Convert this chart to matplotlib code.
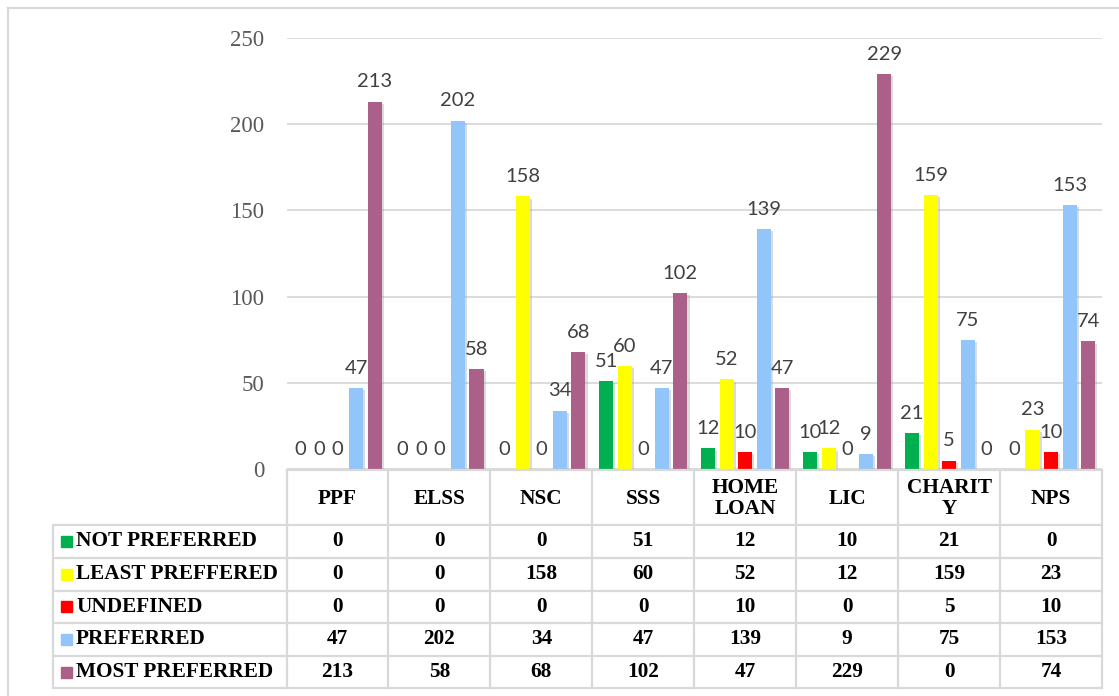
import numpy as np
import matplotlib.pyplot as plt
import matplotlib.patheffects as pe
from matplotlib.lines import Line2D
from matplotlib.patches import Rectangle
import matplotlib.transforms as mtransforms

categories = ['PPF', 'ELSS', 'NSC', 'SSS', 'HOME\nLOAN', 'LIC', 'CHARIT\nY', 'NPS']
series_names = ['NOT PREFERRED', 'LEAST PREFFERED', 'UNDEFINED', 'PREFERRED', 'MOST PREFERRED']
not_preferred = [0, 0, 0, 51, 12, 10, 21, 0]
least_preferred = [0, 0, 158, 60, 52, 12, 159, 23]
undefined = [0, 0, 0, 0, 10, 0, 5, 10]
preferred = [47, 202, 34, 47, 139, 9, 75, 153]
most_preferred = [213, 58, 68, 102, 47, 229, 0, 74]
series = [not_preferred, least_preferred, undefined, preferred, most_preferred]
colors = ['#00B050', '#FFFF00', '#FF0000', '#92C5F9', '#AB6089']
yticks = [0, 50, 100, 150, 200, 250]

W, H = 1119, 696
fig = plt.figure(figsize=(W / 100, H / 100), dpi=100)

def fx(px):
    return px / W

def fy(py):
    return 1 - py / H

# plot area in pixels
left, right, top, bottom = 286.5, 1102, 37.7, 469.2
ax = fig.add_axes([fx(left), fy(bottom), fx(right - left), (bottom - top) / H])

n = len(categories)
x = np.arange(n)
step = 0.182
width = 0.138
grid_color = '#D9D9D9'

for i, (vals, col) in enumerate(zip(series, colors)):
    pos = x + (i - 2) * step
    bars = ax.bar(pos, vals, width=width, color=col, zorder=3)
    for b in bars:
        b.set_path_effects([pe.SimplePatchShadow(offset=(1.5, -1.5), shadow_rgbFace='#9a9a9a', alpha=0.35), pe.Normal()])
    for xp, v in zip(pos, vals):
        ax.annotate(str(v), (xp, v), xytext=(0, 8), textcoords='offset points',
                    ha='center', va='bottom', fontsize=14.5, color='#404040',
                    family='Lato', zorder=4)

ax.set_xlim(-0.5, n - 0.5)
ax.set_ylim(0, 250)
ax.set_yticks(yticks)
ax.set_yticklabels([str(t) for t in yticks], family='Liberation Serif', fontsize=16.5, color='#595959')
ax.tick_params(axis='y', length=0, pad=16)
ax.set_xticks([])
ax.grid(axis='y', color=grid_color, linewidth=1.3, zorder=0)
for s in ax.spines.values():
    s.set_visible(False)

# data table under the chart
trans = mtransforms.blended_transform_factory(ax.transData, fig.transFigure)
row_edges = [470, 525, 557.5, 590.5, 623, 656, 688]
legend_left = 53
line_kw = dict(color=grid_color, linewidth=1.6)

# horizontal lines
fig.add_artist(Line2D([fx(left), fx(right)], [fy(row_edges[0])] * 2, **line_kw))
for yy in row_edges[1:]:
    fig.add_artist(Line2D([fx(legend_left), fx(right)], [fy(yy)] * 2, **line_kw))
# vertical lines
for k in range(n + 1):
    xx = left + k * (right - left) / n
    fig.add_artist(Line2D([fx(xx)] * 2, [fy(row_edges[0]), fy(row_edges[-1])], **line_kw))
fig.add_artist(Line2D([fx(legend_left)] * 2, [fy(row_edges[1]), fy(row_edges[-1])], **line_kw))

tfont = dict(family='Liberation Serif', fontweight='bold', fontsize=15.3, color='black')
hy = (row_edges[0] + row_edges[1]) / 2
for k, c in enumerate(categories):
    fig.text(k, fy(hy + 1), c, transform=trans, ha='center', va='center',
             linespacing=1.1, **tfont)

for r, (name, vals, col) in enumerate(zip(series_names, series, colors)):
    cy = (row_edges[r + 1] + row_edges[r + 2]) / 2
    fig.add_artist(Rectangle((fx(61), fy(cy + 5.5)), fx(11), 11 / H, color=col))
    fig.text(fx(76), fy(cy), name, ha='left', va='center', **tfont)
    for k, v in enumerate(vals):
        fig.text(k, fy(cy), str(v), transform=trans, ha='center', va='center', **tfont)

# outer chart border
fig.add_artist(Line2D([fx(7.5), fx(7.5)], [fy(8), 0], color=grid_color, linewidth=1.6))
fig.add_artist(Line2D([fx(7.5), 1], [fy(8), fy(8)], color=grid_color, linewidth=1.6))

fig.savefig('out.png', dpi=100)
